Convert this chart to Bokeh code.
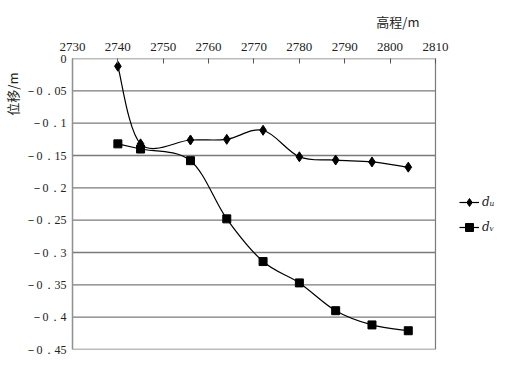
from bokeh.plotting import figure
from bokeh.models import Range1d, FixedTicker, Title, Legend, LegendItem, ColumnDataSource
from bokeh.embed import file_html
from bokeh.resources import INLINE

# ---- data ----
elevation = [2740, 2745, 2756, 2764, 2772, 2780, 2788, 2796, 2804]
d_u = [-0.012, -0.132, -0.126, -0.125, -0.111, -0.152, -0.157, -0.160, -0.168]
d_v = [-0.132, -0.140, -0.158, -0.248, -0.314, -0.347, -0.390, -0.412, -0.421]

x_ticks = [2730, 2740, 2750, 2760, 2770, 2780, 2790, 2800, 2810]
y_ticks = [0, -0.05, -0.1, -0.15, -0.2, -0.25, -0.3, -0.35, -0.4, -0.45]
y_tick_labels = ["0", "－0．05", "－0．1", "－0．15", "－0．2", "－0．25",
                 "－0．3", "－0．35", "－0．4", "－0．45"]

x_title = "高程/m"
y_title = "位移/m"
series_labels = ["dᵤ", "dᵥ"]

# ---- layout (pixels) ----
FIG_W, FIG_H = 495, 358
LEFT, TOP, BOTTOM = 65, 52, 9
PLOT_W = 369                      # width of the drawn plot box
FRAME_W = FIG_W - LEFT            # frame runs to the right edge so the legend can sit beside the box
x_lo, x_hi = x_ticks[0], x_ticks[-1]
x_end = x_lo + (x_hi - x_lo) * FRAME_W / PLOT_W


def smooth_segments(xs, ys):
    """Catmull-Rom style cubic Bezier segments through the points (like Excel smoothing)."""
    n = len(xs)
    seg = dict(x0=[], y0=[], x1=[], y1=[], cx0=[], cy0=[], cx1=[], cy1=[])
    for i in range(n - 1):
        ip = max(i - 1, 0)
        inx = min(i + 2, n - 1)
        seg["x0"].append(xs[i]); seg["y0"].append(ys[i])
        seg["x1"].append(xs[i + 1]); seg["y1"].append(ys[i + 1])
        seg["cx0"].append(xs[i] + (xs[i + 1] - xs[ip]) / 6.0)
        seg["cy0"].append(ys[i] + (ys[i + 1] - ys[ip]) / 6.0)
        seg["cx1"].append(xs[i + 1] - (xs[inx] - xs[i]) / 6.0)
        seg["cy1"].append(ys[i + 1] - (ys[inx] - ys[i]) / 6.0)
    return ColumnDataSource(seg)


p = figure(width=FIG_W, height=FIG_H,
           x_range=Range1d(x_lo, x_end), y_range=Range1d(y_ticks[-1], y_ticks[0]),
           x_axis_location="above",
           output_backend="svg", toolbar_location=None,
           min_border_left=LEFT, min_border_right=0,
           min_border_top=TOP, min_border_bottom=BOTTOM)

p.background_fill_color = "white"
p.border_fill_color = "white"
p.outline_line_color = None
p.xgrid.visible = False
p.ygrid.visible = False

GRID = "#7a7a7a"
# horizontal grid lines, limited to the plot box
p.segment(x0=[x_lo] * len(y_ticks), x1=[x_hi] * len(y_ticks), y0=y_ticks, y1=y_ticks,
          line_color=GRID, line_width=1.3)
# right border of the plot box
p.segment(x0=[x_hi], x1=[x_hi], y0=[y_ticks[-1]], y1=[y_ticks[0]],
          line_color=GRID, line_width=1.2)

# top x axis
xa = p.xaxis[0]
xa.ticker = FixedTicker(ticks=x_ticks)
xa.axis_line_color = None
xa.major_tick_in = 5
xa.major_tick_out = 0
xa.major_tick_line_color = "#555555"
xa.minor_tick_line_color = None
xa.major_label_standoff = 8
xa.major_label_text_font = "Liberation Serif"
xa.major_label_text_font_size = "13px"
xa.major_label_text_color = "#222222"

# left y axis
ya = p.yaxis[0]
ya.ticker = FixedTicker(ticks=y_ticks)
ya.major_label_overrides = {t: s for t, s in zip(y_ticks, y_tick_labels)}
ya.axis_line_color = "#909090"
ya.axis_line_width = 1.5
ya.major_tick_in = 0
ya.major_tick_out = 0
ya.minor_tick_line_color = None
ya.major_label_standoff = 6
ya.major_label_text_font = "Liberation Serif"
ya.major_label_text_font_size = "12px"
ya.major_label_text_color = "#222222"

# titles
p.add_layout(Title(text=x_title, align="right", offset=FRAME_W - PLOT_W + 15, standoff=18,
                   text_font="Noto Sans CJK SC", text_font_size="13px",
                   text_font_style="normal", text_color="#222222"), "above")
p.add_layout(Title(text=y_title, align="right", offset=14, standoff=0,
                   text_font="Noto Sans CJK SC", text_font_size="13px",
                   text_font_style="normal", text_color="#222222"), "left")

# series
src_u = smooth_segments(elevation, d_u)
src_v = smooth_segments(elevation, d_v)
cu = p.bezier(x0="x0", y0="y0", x1="x1", y1="y1", cx0="cx0", cy0="cy0",
              cx1="cx1", cy1="cy1", source=src_u, line_color="black", line_width=1.2)
cv = p.bezier(x0="x0", y0="y0", x1="x1", y1="y1", cx0="cx0", cy0="cy0",
              cx1="cx1", cy1="cy1", source=src_v, line_color="black", line_width=1.2)
mu = p.scatter(elevation, d_u, marker="diamond", size=10, color="black")
mv = p.scatter(elevation, d_v, marker="square", size=8, color="black")

legend = Legend(items=[LegendItem(label=series_labels[0], renderers=[cu, mu]),
                       LegendItem(label=series_labels[1], renderers=[cv, mv])],
                location=(PLOT_W + 18, 112), margin=0, padding=0, spacing=5,
                glyph_width=20, glyph_height=20, label_standoff=3,
                label_text_font="DejaVu Serif", label_text_font_style="italic",
                label_text_font_size="12px", label_text_color="#222222",
                border_line_alpha=0, background_fill_alpha=0)
p.add_layout(legend, "center")

open("out.html", "w").write(file_html(p, INLINE))
